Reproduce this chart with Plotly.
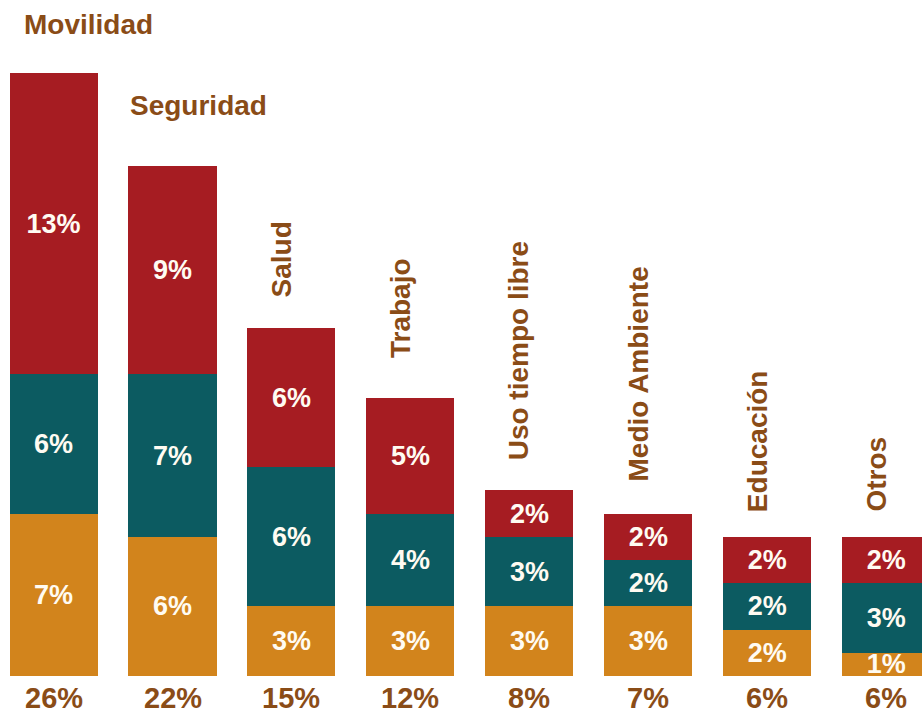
import plotly.graph_objects as go

categories = ["Movilidad", "Seguridad", "Salud", "Trabajo", "Uso tiempo libre",
              "Medio Ambiente", "Educación", "Otros"]
orange_vals = [7, 6, 3, 3, 3, 3, 2, 1]
teal_vals = [6, 7, 6, 4, 3, 2, 2, 3]
red_vals = [13, 9, 6, 5, 2, 2, 2, 2]
totals = [26, 22, 15, 12, 8, 7, 6, 6]

RED = "#A61C22"
TEAL = "#0C5B61"
ORANGE = "#D2841C"
BROWN = "#8A4C17"
FONT = "Liberation Sans"

xs = list(range(len(categories)))

fig = go.Figure()
for vals, col in [(orange_vals, ORANGE), (teal_vals, TEAL), (red_vals, RED)]:
    fig.add_trace(go.Bar(
        x=xs, y=vals, marker=dict(color=col, line=dict(width=0)),
        width=0.74,
        text=[f"<b>{v}%</b>" for v in vals],
        textposition="inside", insidetextanchor="middle",
        textfont=dict(color="#FFFBF2", size=27, family=FONT),
        constraintext="none",
        hoverinfo="skip",
    ))

annotations = []
# totals below bars
for i, t in enumerate(totals):
    annotations.append(dict(x=i, y=0, xref="x", yref="y", text=f"<b>{t}%</b>",
                            showarrow=False, yanchor="top", yshift=-4,
                            font=dict(color=BROWN, size=29, family=FONT)))

# category labels: (x offset in bar units, pixel gap above bar)
horiz = {0: (-0.265, 31), 1: (-0.37, 43)}
rot_gap = {2: 29, 3: 38, 4: 28, 5: 30, 6: 23, 7: 23}
for i, c in enumerate(categories):
    if i in horiz:
        dx, gap = horiz[i]
        annotations.append(dict(x=i + dx, y=totals[i], xref="x", yref="y",
                                text=f"<b>{c}</b>", showarrow=False,
                                xanchor="left", yanchor="bottom", yshift=gap,
                                font=dict(color=BROWN, size=28, family=FONT)))
    else:
        annotations.append(dict(x=i, y=totals[i], xref="x", yref="y",
                                text=f"<b>{c}</b>", showarrow=False,
                                textangle=-90, xanchor="center", yanchor="bottom",
                                xshift=-10, yshift=rot_gap[i],
                                font=dict(color=BROWN, size=28, family=FONT)))

fig.update_layout(
    barmode="stack",
    width=922, height=717,
    margin=dict(l=0, r=0, t=0, b=41),
    paper_bgcolor="white", plot_bgcolor="white",
    showlegend=False,
    uniformtext=dict(minsize=27, mode="show"),
    xaxis=dict(range=[-0.45, 7.30], visible=False, showgrid=False, zeroline=False),
    yaxis=dict(range=[0, 29.14], visible=False, showgrid=False, zeroline=False),
    annotations=annotations,
)

fig.write_html("out.html")
